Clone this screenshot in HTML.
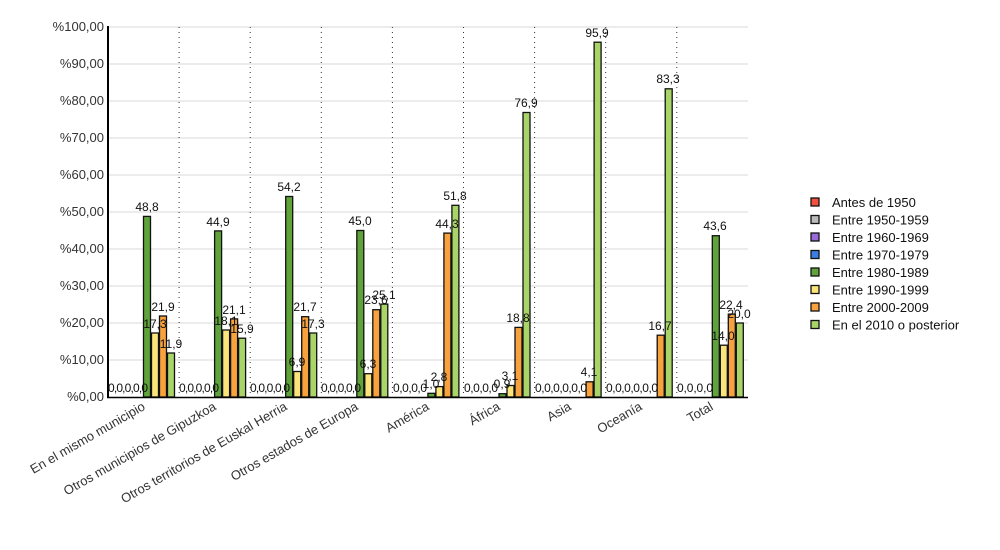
<!DOCTYPE html>
<html><head><meta charset="utf-8"><style>body{margin:0;background:#fff}svg{display:block;font-family:"Liberation Sans",sans-serif}</style></head><body>
<svg width="1000" height="550" viewBox="0 0 1000 550" xmlns="http://www.w3.org/2000/svg">
<g stroke="#d8d8d8" stroke-width="1">
<line x1="108" y1="27" x2="748" y2="27"/><line x1="108" y1="64" x2="748" y2="64"/><line x1="108" y1="101" x2="748" y2="101"/><line x1="108" y1="138" x2="748" y2="138"/><line x1="108" y1="175" x2="748" y2="175"/><line x1="108" y1="212" x2="748" y2="212"/><line x1="108" y1="249" x2="748" y2="249"/><line x1="108" y1="286" x2="748" y2="286"/><line x1="108" y1="323" x2="748" y2="323"/><line x1="108" y1="360" x2="748" y2="360"/>
</g>
<g stroke="#333" stroke-width="1" stroke-dasharray="1,4">
<line x1="179.1" y1="27" x2="179.1" y2="397"/><line x1="250.2" y1="27" x2="250.2" y2="397"/><line x1="321.3" y1="27" x2="321.3" y2="397"/><line x1="392.4" y1="27" x2="392.4" y2="397"/><line x1="463.5" y1="27" x2="463.5" y2="397"/><line x1="534.6" y1="27" x2="534.6" y2="397"/><line x1="605.7" y1="27" x2="605.7" y2="397"/><line x1="676.8" y1="27" x2="676.8" y2="397"/>
</g>
<g font-size="13" fill="#333" text-anchor="end">
<text x="104" y="31">%100,00</text><text x="104" y="68">%90,00</text><text x="104" y="105">%80,00</text><text x="104" y="142">%70,00</text><text x="104" y="179">%60,00</text><text x="104" y="216">%50,00</text><text x="104" y="253">%40,00</text><text x="104" y="290">%30,00</text><text x="104" y="327">%20,00</text><text x="104" y="364">%10,00</text><text x="104" y="401">%0,00</text>
</g>
<g stroke="#111" stroke-width="1.3">
<rect x="143.5" y="216.4" width="7" height="180.6" fill="#5fa33a"/><rect x="151.5" y="333" width="7" height="64" fill="#fbe47a"/><rect x="159.5" y="316" width="7" height="81" fill="#f7a23c"/><rect x="167.5" y="353" width="7" height="44" fill="#a8d468"/>
<rect x="214.6" y="230.9" width="7" height="166.1" fill="#5fa33a"/><rect x="222.6" y="330" width="7" height="67" fill="#fbe47a"/><rect x="230.6" y="318.9" width="7" height="78.1" fill="#f7a23c"/><rect x="238.6" y="338.2" width="7" height="58.8" fill="#a8d468"/>
<rect x="285.7" y="196.5" width="7" height="200.5" fill="#5fa33a"/><rect x="293.7" y="371.5" width="7" height="25.5" fill="#fbe47a"/><rect x="301.7" y="316.7" width="7" height="80.3" fill="#f7a23c"/><rect x="309.7" y="333" width="7" height="64" fill="#a8d468"/>
<rect x="356.8" y="230.5" width="7" height="166.5" fill="#5fa33a"/><rect x="364.8" y="373.7" width="7" height="23.3" fill="#fbe47a"/><rect x="372.8" y="309.7" width="7" height="87.3" fill="#f7a23c"/><rect x="380.8" y="304.1" width="7" height="92.9" fill="#a8d468"/>
<rect x="427.9" y="393.3" width="7" height="3.7" fill="#5fa33a"/><rect x="435.9" y="386.6" width="7" height="10.4" fill="#fbe47a"/><rect x="443.9" y="233.1" width="7" height="163.9" fill="#f7a23c"/><rect x="451.9" y="205.3" width="7" height="191.7" fill="#a8d468"/>
<rect x="499" y="393.7" width="7" height="3.3" fill="#5fa33a"/><rect x="507" y="385.5" width="7" height="11.5" fill="#fbe47a"/><rect x="515" y="327.4" width="7" height="69.6" fill="#f7a23c"/><rect x="523" y="112.5" width="7" height="284.5" fill="#a8d468"/>
<rect x="586.1" y="381.8" width="7" height="15.2" fill="#f7a23c"/><rect x="594.1" y="42.2" width="7" height="354.8" fill="#a8d468"/>
<rect x="657.2" y="335.2" width="7" height="61.8" fill="#f7a23c"/><rect x="665.2" y="88.8" width="7" height="308.2" fill="#a8d468"/>
<rect x="712.3" y="235.7" width="7" height="161.3" fill="#5fa33a"/><rect x="720.3" y="345.2" width="7" height="51.8" fill="#fbe47a"/><rect x="728.3" y="314.1" width="7" height="82.9" fill="#f7a23c"/><rect x="736.3" y="323" width="7" height="74" fill="#a8d468"/>
</g>
<line x1="108" y1="26" x2="108" y2="398" stroke="#000" stroke-width="2"/>
<line x1="107" y1="397.5" x2="748" y2="397.5" stroke="#000" stroke-width="1.5"/>
<g font-size="12" fill="#111" text-anchor="middle">
<text x="147" y="211">48,8</text><text x="155" y="328">17,3</text><text x="163" y="311">21,9</text><text x="171" y="348">11,9</text>
<text x="218" y="226">44,9</text><text x="226" y="325">18,1</text><text x="234" y="314">21,1</text><text x="242" y="333">15,9</text>
<text x="289" y="191">54,2</text><text x="297" y="366">6,9</text><text x="305" y="311">21,7</text><text x="313" y="328">17,3</text>
<text x="360" y="225">45,0</text><text x="368" y="368">6,3</text><text x="376" y="304">23,6</text><text x="384" y="299">25,1</text>
<text x="431" y="388">1,0</text><text x="439" y="381">2,8</text><text x="447" y="228">44,3</text><text x="455" y="200">51,8</text>
<text x="502" y="388">0,9</text><text x="510" y="380">3,1</text><text x="518" y="322">18,8</text><text x="526" y="107">76,9</text>
<text x="589" y="376">4,1</text><text x="597" y="37">95,9</text>
<text x="660" y="330">16,7</text><text x="668" y="83">83,3</text>
<text x="715" y="230">43,6</text><text x="723" y="340">14,0</text><text x="731" y="309">22,4</text><text x="739" y="318">20,0</text>
</g>
<g font-size="12" fill="#111">
<text x="108" y="392" textLength="40">0,0,0,0,0</text>
<text x="179" y="392" textLength="40">0,0,0,0,0</text>
<text x="250" y="392" textLength="40">0,0,0,0,0</text>
<text x="321" y="392" textLength="40">0,0,0,0,0</text>
<text x="393" y="392" textLength="34">0,0,0,0</text>
<text x="464" y="392" textLength="34">0,0,0,0</text>
<text x="535" y="392" textLength="52">0,0,0,0,0,0</text>
<text x="606" y="392" textLength="52">0,0,0,0,0,0</text>
<text x="677" y="392" textLength="36">0,0,0,0</text>
</g>
<g font-size="13" fill="#333" text-anchor="end">
<text transform="translate(146,409) rotate(-30)">En el mismo municipio</text>
<text transform="translate(217,409) rotate(-30)">Otros municipios de Gipuzkoa</text>
<text transform="translate(288,409) rotate(-30)">Otros territorios de Euskal Herria</text>
<text transform="translate(359,409) rotate(-30)">Otros estados de Europa</text>
<text transform="translate(430,409) rotate(-30)">América</text>
<text transform="translate(501,409) rotate(-30)">África</text>
<text transform="translate(572,409) rotate(-30)">Asia</text>
<text transform="translate(643,409) rotate(-30)">Oceanía</text>
<text transform="translate(714,409) rotate(-30)">Total</text>
</g>
<g stroke="#111" stroke-width="1.3">
<rect x="811" y="198" width="8" height="8" fill="#f0503c"/>
<rect x="811" y="215.5" width="8" height="8" fill="#bbbbbb"/>
<rect x="811" y="233" width="8" height="8" fill="#9a6ad8"/>
<rect x="811" y="250.5" width="8" height="8" fill="#3c7ee8"/>
<rect x="811" y="268" width="8" height="8" fill="#5fa33a"/>
<rect x="811" y="285.5" width="8" height="8" fill="#fbe47a"/>
<rect x="811" y="303" width="8" height="8" fill="#f7a23c"/>
<rect x="811" y="320.5" width="8" height="8" fill="#a8d468"/>
</g>
<g font-size="13" fill="#111">
<text x="832" y="207">Antes de 1950</text>
<text x="832" y="224.5">Entre 1950-1959</text>
<text x="832" y="242">Entre 1960-1969</text>
<text x="832" y="259.5">Entre 1970-1979</text>
<text x="832" y="277">Entre 1980-1989</text>
<text x="832" y="294.5">Entre 1990-1999</text>
<text x="832" y="312">Entre 2000-2009</text>
<text x="832" y="329.5">En el 2010 o posterior</text>
</g>
</svg>
</body></html>
